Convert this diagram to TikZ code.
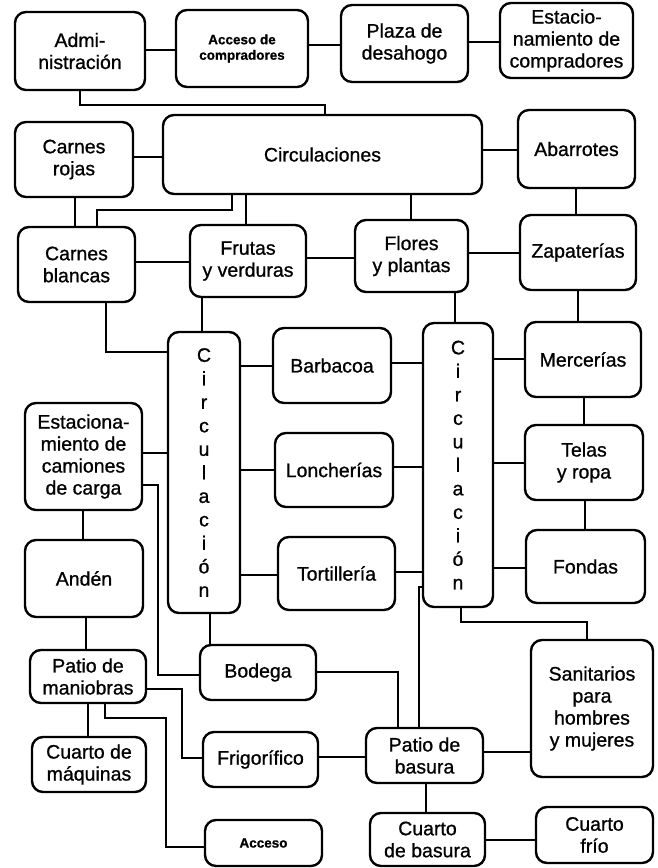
\documentclass[tikz,border=0pt]{standalone}
\usepackage{fontspec}
\setmainfont{Liberation Sans}[FakeBold=0.9]
\newcommand\mkbox[7][]{\node[box,#1,minimum width=#5pt,minimum height=#6pt] (#2) at (#3,#4) {#7};}
\newcommand\hcon[3]{\draw[conn] (#1.east |- 0,#3) -- (#2.west |- 0,#3);}
\newcommand\vcon[3]{\draw[conn] (#1.south -| #3,0) -- (#2.north -| #3,0);}
\begin{document}
\begin{tikzpicture}[x=1pt,y=-1pt,
  box/.style={draw, line width=2.4pt, rounded corners=11pt, inner sep=0pt, align=center, font=\fontsize{19.5}{22}\selectfont},
  small/.style={font=\bfseries\fontsize{13.5}{15.5}\selectfont},
  vert/.style={font=\fontsize{19.5}{23.5}\selectfont},
  conn/.style={line width=2pt}]
\useasboundingbox (0,0) rectangle (658,868);
% row 1
\mkbox{admin}{80}{51}{130}{78}{Admi-\\nistración}
\mkbox[small]{acc}{242}{48.5}{132}{77}{Acceso de\\compradores}
\mkbox{plaza}{404.5}{43.5}{127}{77}{Plaza de\\desahogo}
\mkbox{estc}{566.5}{40.5}{133}{75}{Estacio-\\namiento de\\compradores}
% row 2
\mkbox{crojas}{74}{159.5}{118}{75}{Carnes\\rojas}
\mkbox{circ}{322.5}{154.5}{319}{79}{Circulaciones}
\mkbox{abarr}{576.5}{149}{117}{78}{Abarrotes}
% row 3
\mkbox{cblancas}{76.5}{264.5}{117}{75}{Carnes\\blancas}
\mkbox{frutas}{248}{261}{116}{72}{Frutas\\y verduras}
\mkbox{flores}{411.5}{256}{113}{72}{Flores\\y plantas}
\mkbox{zapat}{578}{252.5}{116}{75}{Zapaterías}
% circulation columns
\mkbox[vert]{circL}{204}{472.5}{72}{281}{C\\i\\r\\c\\u\\l\\a\\c\\i\\ó\\n}
\mkbox[vert]{circR}{458}{465}{70}{284}{C\\i\\r\\c\\u\\l\\a\\c\\i\\ó\\n}
\mkbox{barb}{332}{365.5}{118}{75}{Barbacoa}
\mkbox{merc}{583}{359.5}{116}{75}{Mercerías}
\mkbox{estcam}{83.5}{456.5}{117}{107}{Estaciona-\\miento de\\camiones\\de carga}
\mkbox{lonch}{334}{470}{118}{74}{Loncherías}
\mkbox{telas}{584}{462.5}{118}{75}{Telas\\y ropa}
\mkbox{anden}{84}{578.5}{118}{77}{Andén}
\mkbox{tort}{336.5}{573.5}{117}{73}{Tortillería}
\mkbox{fondas}{585.5}{566.5}{119}{73}{Fondas}
% bottom
\mkbox{bodega}{258}{672.5}{116}{55}{Bodega}
\mkbox{pman}{88}{676.5}{116}{53}{Patio de\\maniobras}
\mkbox{cmaq}{89}{764.5}{114}{55}{Cuarto de\\máquinas}
\mkbox{frig}{260.5}{759.5}{115}{55}{Frigorífico}
\mkbox[small]{acceso}{263.5}{843}{117}{46}{Acceso}
\mkbox{pbas}{424.5}{755.5}{117}{55}{Patio de\\basura}
\mkbox{sanit}{592}{708.5}{122}{137}{Sanitarios\\para\\hombres\\y mujeres}
\mkbox{cbas}{427.5}{839.5}{115}{53}{Cuarto\\de basura}
\mkbox{cfrio}{594.5}{835}{117}{56}{Cuarto\\frío}
% horizontal connectors
\hcon{admin}{acc}{50}
\hcon{acc}{plaza}{45}
\hcon{plaza}{estc}{42}
\hcon{crojas}{circ}{157}
\hcon{circ}{abarr}{150}
\hcon{cblancas}{frutas}{262}
\hcon{frutas}{flores}{258}
\hcon{flores}{zapat}{253}
\hcon{circL}{barb}{366}
\hcon{barb}{circR}{363}
\hcon{circR}{merc}{359}
\hcon{estcam}{circL}{453}
\hcon{circL}{lonch}{470}
\hcon{lonch}{circR}{467}
\hcon{circR}{telas}{463}
\hcon{circL}{tort}{575}
\hcon{tort}{circR}{572}
\hcon{circR}{fondas}{568}
\hcon{frig}{pbas}{757}
\hcon{pbas}{sanit}{752}
\hcon{cbas}{cfrio}{840}
% vertical connectors
\vcon{crojas}{cblancas}{75}
\vcon{circ}{frutas}{246}
\vcon{circ}{flores}{411}
\vcon{abarr}{zapat}{576}
\vcon{zapat}{merc}{578}
\vcon{merc}{telas}{584}
\vcon{telas}{fondas}{585}
\vcon{frutas}{circL}{202}
\vcon{flores}{circR}{455}
\vcon{estcam}{anden}{83}
\vcon{anden}{pman}{86}
\vcon{pman}{cmaq}{88}
\vcon{circL}{bodega}{210}
\vcon{pbas}{cbas}{426}
% elbow connectors
\draw[conn] (admin.south -| 80,0) |- (325,105) -- (circ.north -| 325,0);
\draw[conn] (circ.south -| 232,0) |- (97,210) -- (cblancas.north -| 97,0);
\draw[conn] (cblancas.south -| 106,0) |- (circL.west |- 0,352);
\draw[conn] (estcam.east |- 0,485) -| (158,675) -- (bodega.west |- 0,675);
\draw[conn] (bodega.east |- 0,672) -| (pbas.north -| 398,0);
\draw[conn] (circR.west |- 0,587) -| (pbas.north -| 419,0);
\draw[conn] (circR.south -| 461,0) |- (587,622) -- (sanit.north -| 587,0);
\draw[conn] (pman.east |- 0,689) -| (182,758) -- (frig.west |- 0,758);
\draw[conn] (pman.south -| 105,0) |- (166,718) |- (acceso.west |- 0,847);
\end{tikzpicture}
\end{document}
